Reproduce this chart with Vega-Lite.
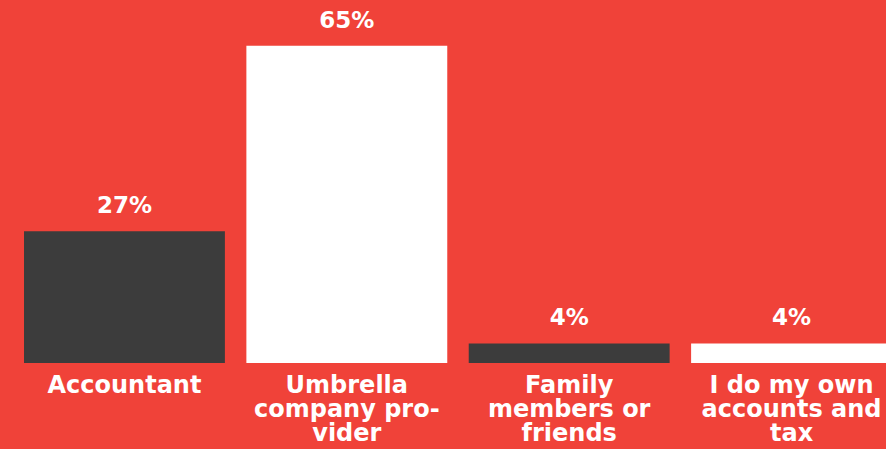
{
  "$schema": "https://vega.github.io/schema/vega-lite/v6.json",
  "width": 916,
  "height": 363,
  "autosize": "none",
  "padding": {"left": 0, "top": 0, "right": 0, "bottom": 86},
  "background": "#F04239",
  "config": {"view": {"stroke": null}, "font": "DejaVu Sans"},
  "data": {"values": [
    {"category": "Accountant", "value": 27, "label": "27%", "tone": "dark"},
    {"category": "Umbrella|company pro-|vider", "value": 65, "label": "65%", "tone": "light"},
    {"category": "Family|members or|friends", "value": 4, "label": "4%", "tone": "dark"},
    {"category": "I do my own|accounts and|tax", "value": 4, "label": "4%", "tone": "light"}
  ]},
  "encoding": {
    "x": {"field": "category", "type": "nominal", "sort": null,
      "scale": {"paddingInner": 0.0966, "paddingOuter": 0.108},
      "axis": {"title": null, "labelAngle": 0, "domain": false, "ticks": false,
        "labelExpr": "split(datum.label, '|')", "labelColor": "white", "labelFont": "DejaVu Sans",
        "labelFontWeight": "bold", "labelFontSize": 24, "labelLineHeight": 24, "labelPadding": 10,
        "labelBaseline": "top", "labelLimit": 300}},
    "y": {"field": "value", "type": "quantitative", "scale": {"domain": [0, 74.4]}, "axis": null}
  },
  "layer": [
    {"mark": {"type": "bar"},
      "encoding": {"color": {"field": "tone", "type": "nominal", "scale": {"domain": ["dark", "light"], "range": ["#3c3c3c", "#ffffff"]}, "legend": null}}},
    {"mark": {"type": "text", "dy": -18, "baseline": "alphabetic", "color": "white", "fontWeight": "bold", "fontSize": 23, "font": "DejaVu Sans"},
      "encoding": {"text": {"field": "label"}}}
  ]
}
